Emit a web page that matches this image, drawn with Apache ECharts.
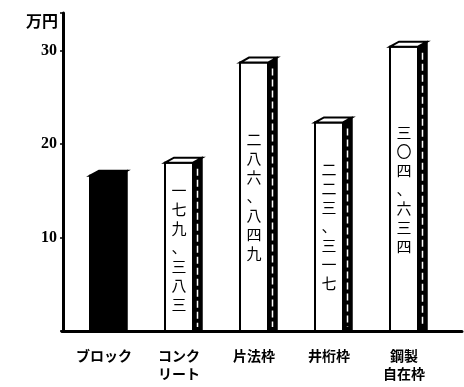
<!DOCTYPE html>
<html>
<head>
<meta charset="utf-8">
<script src="https://cdn.jsdelivr.net/npm/echarts@6/dist/echarts.min.js"></script>
<style>html,body{margin:0;padding:0;background:#fff}#c{width:464px;height:387px}</style>
</head>
<body>
<div id="c"></div>
<script>
const categories = ['ブロック', 'コンク\nリート', '片法枠', '井桁枠', '鋼製\n自在枠'];
const values = [16.6, 18.0, 28.7, 22.3, 30.4];
const valueLabels = ['', '一七九、三八三', '二八六、八四九', '二二三、三一七', '三〇四、六三四'];
const yTicks = [10, 20, 30];
const yUnit = '万円';

const chart = echarts.init(document.getElementById('c'), null, {renderer: 'canvas'});
const JP = '"Noto Sans CJK JP", sans-serif';

function renderItem(params, api) {
  const i = api.value(0);
  const v = api.value(1);
  const base = api.coord([i, 0]);
  const top = api.coord([i, v]);
  const cx = top[0];
  const fw = 28, sw = 9, dy = 5;
  const x0 = cx - fw / 2, x1 = cx + fw / 2, yt = top[1], yb = base[1];
  const dark = i === 0;
  const children = [
    {type: 'polygon', shape: {points: [[x1, yt], [x1 + sw, yt - dy], [x1 + sw, yb], [x1, yb]]},
     style: {fill: '#000', stroke: '#000', lineWidth: 1.5}},
    {type: 'rect', shape: {x: x0, y: yt, width: fw, height: yb - yt},
     style: {fill: dark ? '#000' : '#fff', stroke: '#000', lineWidth: 2}},
    {type: 'polygon', shape: {points: [[x0, yt], [x0 + sw, yt - dy], [x1 + sw, yt - dy], [x1, yt]]},
     style: {fill: dark ? '#000' : '#fff', stroke: '#000', lineWidth: 2}}
  ];
  if (!dark) {
    children.push({type: 'line', shape: {x1: x1 + 4.5, y1: yt + 6, x2: x1 + 4.5, y2: yb - 4},
      style: {stroke: '#fff', lineWidth: 1.5, lineDash: [7, 4]}});
    children.push({type: 'text', style: {
      text: valueLabels[i].split('').join('\n'),
      x: cx, y: (yt + yb) / 2, align: 'center', verticalAlign: 'middle',
      font: '15px ' + JP, lineHeight: 19, fill: '#000'}});
  }
  return {type: 'group', children: children};
}

chart.setOption({
  backgroundColor: '#fff',
  animation: false,
  grid: [
    {left: 66.5, width: 375, top: 13, bottom: 56},
    {left: 62, right: 2, top: 13, bottom: 56}
  ],
  xAxis: [
    {type: 'category', gridIndex: 0, data: categories,
     axisLine: {show: false}, axisTick: {show: false},
     axisLabel: {color: '#000', fontFamily: JP, fontSize: 14, fontWeight: 'bold', lineHeight: 18, margin: 16, interval: 0}},
    {type: 'value', gridIndex: 1, min: 0, max: 1,
     axisLine: {show: true, lineStyle: {color: '#000', width: 3}},
     axisTick: {show: false}, axisLabel: {show: false}, splitLine: {show: false}}
  ],
  yAxis: [
    {type: 'value', gridIndex: 0, min: 0, max: 34, interval: 10, offset: 3.5,
     name: yUnit, nameLocation: 'end', nameGap: -8,
     nameTextStyle: {color: '#000', fontFamily: JP, fontSize: 16, fontWeight: 'bold', align: 'right', verticalAlign: 'middle', padding: [0, 5, 0, 0]},
     axisLine: {show: true, lineStyle: {color: '#000', width: 3}},
     axisTick: {show: true, length: 3, lineStyle: {color: '#000', width: 1.5}},
     axisLabel: {color: '#000', fontFamily: '"Liberation Serif", serif', fontSize: 16, fontWeight: 'bold', margin: 6,
       formatter: function (val) { return yTicks.indexOf(val) >= 0 ? String(val) : ''; }},
     splitLine: {show: false}},
    {type: 'value', gridIndex: 1, show: false}
  ],
  series: [{
    type: 'custom', xAxisIndex: 0, yAxisIndex: 0,
    renderItem: renderItem,
    encode: {x: 0, y: 1},
    data: values.map(function (v, i) { return [i, v]; }),
    clip: false
  }]
});
</script>
</body>
</html>
